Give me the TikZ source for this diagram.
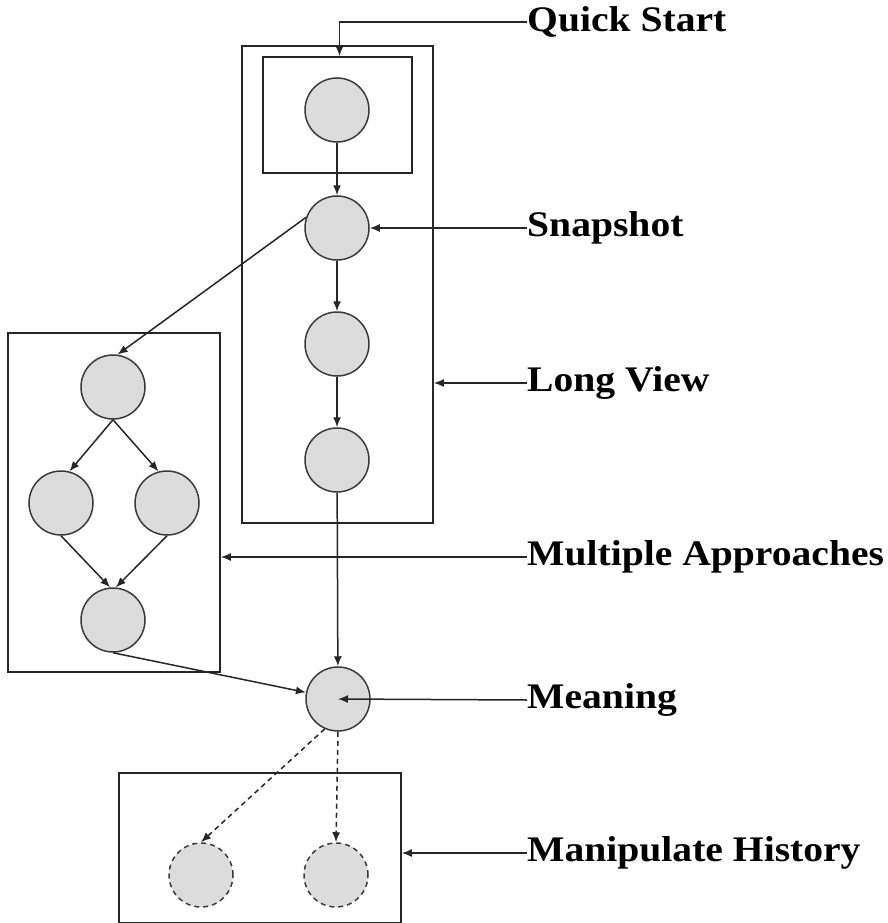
\documentclass[tikz,border=0pt]{standalone}
\usepackage{fontspec}
\setmainfont{Liberation Serif}
\usetikzlibrary{arrows.meta}
\definecolor{nodefill}{HTML}{DCDCDC}
\definecolor{nodeline}{HTML}{3A3A3A}
\tikzset{
  ball/.style={circle, draw=nodeline, fill=nodefill, line width=1.5pt, minimum size=64pt, inner sep=0pt},
  ghost/.style={ball, dash pattern=on 5pt off 4pt},
  frame/.style={draw=black!85, line width=1.6pt, inner sep=0pt},
  lab/.style={font=\fontsize{36}{36}\selectfont\bfseries, anchor=west, inner sep=0pt, xscale=1.1, transform shape},
  conn/.style={draw=black!85, line width=1.5pt, -{Latex[length=10pt,width=8pt]}},
  dconn/.style={conn, dash pattern=on 5pt off 4pt}
}
\begin{document}
\begin{tikzpicture}[x=1pt,y=-1pt]
\useasboundingbox (0,0) rectangle (887,923);
% boxes
\node[frame, minimum width=191pt, minimum height=477pt] (lv) at (337.5,284.5) {};
\node[frame, minimum width=149pt, minimum height=116pt] (qbox) at (337.5,115) {};
\node[frame, minimum width=212pt, minimum height=339pt] (ma) at (114,502.5) {};
\node[frame, minimum width=282pt, minimum height=149.5pt] (mh) at (260,847.75) {};
% circles
\node[ball] (q) at (337,110) {};
\node[ball] (snap) at (337,228) {};
\node[ball] (c3) at (337,344) {};
\node[ball] (c4) at (337,460) {};
\node[ball] (ma1) at (113,387) {};
\node[ball] (ma2) at (61,503) {};
\node[ball] (ma3) at (167,503) {};
\node[ball] (ma4) at (113,620) {};
\node[ball] (mean) at (338,699) {};
\node[ghost] (d1) at (201,875) {};
\node[ghost] (d2) at (336,875) {};
% labels
\node[lab] (lqs) at (527,22) {Quick Start};
\node[lab] (lsnap) at (527,228) {Snapshot};
\node[lab] (llv) at (527,383) {Long View};
\node[lab] (lma) at (527,557) {Multiple Approaches};
\node[lab] (lmean) at (527,700) {Meaning};
\node[lab] (lmh) at (527,853) {Manipulate History};
% connectors
\draw[conn] (q) -- (snap);
\draw[conn] (snap) -- (c3);
\draw[conn] (c3) -- (c4);
\draw[conn] (c4) -- (mean);
\draw[conn] (snap.161) -- (ma1.82);
\draw[conn] (ma1.south) -- (ma2.75);
\draw[conn] (ma1.south) -- (ma3.105);
\draw[conn] (ma2.south) -- (ma4.95);
\draw[conn] (ma3.south) -- (ma4.85);
\draw[conn] (ma4.south) -- (mean);
\draw[dconn] (mean.246) -- (d1.north);
\draw[dconn] (mean.south) -- (d2.north);
% label pointers
\draw[conn] (lqs.west) -| ([xshift=2pt]qbox.north);
\draw[conn] (lsnap.west) -- (snap.east);
\draw[conn] (llv.west) -- (llv.west -| lv.east);
\draw[conn] (lma.west) -- (lma.west -| ma.east);
\draw[conn] (lmean.west) -- (mean.center);
\draw[conn] (lmh.west) -- (lmh.west -| mh.east);
\end{tikzpicture}
\end{document}
